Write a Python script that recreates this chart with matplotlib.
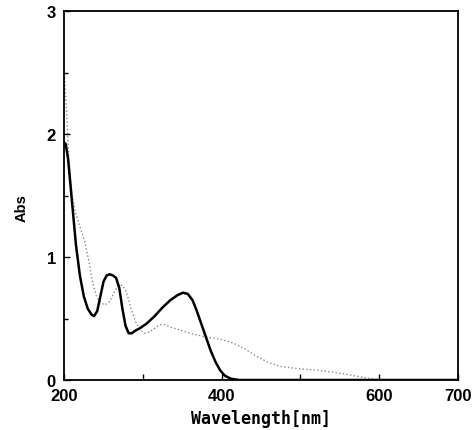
import matplotlib.pyplot as plt

# solid spectrum (wavelength nm, absorbance)
solid_wl = [200, 202, 205, 210, 215, 220, 225, 230, 235, 238, 242, 246, 250, 254,
            258, 262, 266, 270, 274, 278, 282, 286, 290, 296, 305, 315, 325, 335,
            344, 351, 357, 363, 368, 374, 380, 386, 392, 398, 404, 412, 422, 700]
solid_abs = [1.93, 1.92, 1.80, 1.45, 1.10, 0.85, 0.68, 0.58, 0.53, 0.52, 0.56, 0.68,
             0.80, 0.85, 0.86, 0.85, 0.83, 0.75, 0.58, 0.44, 0.38, 0.38, 0.40, 0.42,
             0.46, 0.52, 0.59, 0.65, 0.69, 0.71, 0.70, 0.65, 0.57, 0.46, 0.35, 0.24,
             0.15, 0.08, 0.035, 0.01, 0.0, 0.0]

# dotted spectrum
dot_wl = [200, 203, 206, 210, 214, 220, 226, 231, 236, 241, 246, 252, 258, 264, 269,
          274, 279, 285, 291, 296, 302, 308, 315, 322, 328, 335, 345, 360, 380, 400,
          415, 430, 445, 460, 475, 500, 520, 540, 560, 580, 595, 610, 700]
dot_abs = [2.52, 2.2, 1.8, 1.5, 1.37, 1.25, 1.13, 0.98, 0.80, 0.68, 0.63, 0.61, 0.64,
           0.72, 0.77, 0.77, 0.72, 0.58, 0.47, 0.41, 0.38, 0.39, 0.42, 0.45, 0.45,
           0.43, 0.41, 0.38, 0.35, 0.33, 0.30, 0.25, 0.19, 0.14, 0.11, 0.09, 0.08,
           0.065, 0.045, 0.02, 0.005, 0.0, 0.0]

x_ticks = [200, 300, 400, 500, 600, 700]
x_labels = ['200', '', '400', '', '600', '700']
y_ticks = [0, 1, 2, 3]

fig = plt.figure(figsize=(4.75, 4.31), dpi=100)
ax = fig.add_axes([0.135, 0.116, 0.829, 0.856])

ax.plot(dot_wl, dot_abs, color='#888888', linestyle=':', linewidth=1.0)
ax.plot(solid_wl, solid_abs, color='black', linewidth=1.8)

ax.set_xlim(200, 700)
ax.set_ylim(0, 3)
ax.set_xticks(x_ticks)
ax.set_xticklabels(x_labels)
ax.set_yticks(y_ticks)
ax.set_yticks([0.5, 1.5, 2.5], minor=True)
ax.tick_params(direction='in', length=4, width=1, pad=6)
ax.tick_params(which='minor', direction='in', length=3, width=1)
for lab in ax.get_xticklabels() + ax.get_yticklabels():
    lab.set_fontfamily('Liberation Sans')
    lab.set_fontweight('bold')
    lab.set_fontsize(12)
for s in ax.spines.values():
    s.set_linewidth(1.3)

ax.set_xlabel('Wavelength[nm]', family='DejaVu Sans Mono', fontweight='bold',
              fontsize=12, labelpad=4)
ax.set_ylabel('Abs', family='Liberation Sans', fontweight='bold', fontsize=10.5)
ax.yaxis.set_label_coords(-0.09, 0.47)

fig.savefig('out.png', dpi=100)
